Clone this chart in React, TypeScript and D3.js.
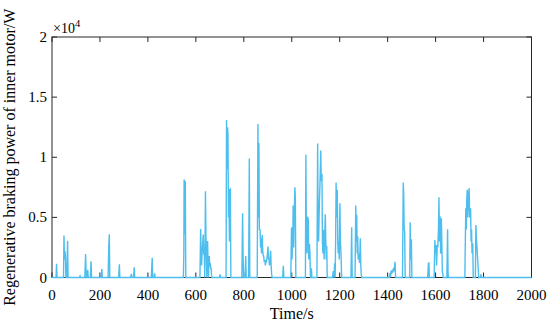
import React from "react";
import * as d3 from "d3";

// Time (s) and regenerative braking power (W) samples
const braking: [number, number][] = [
  [0, 0], [17, 0], [19, 1150], [21, 0],
  [48, 0], [50, 3500], [52, 1500], [54, 2200], [56, 1800], [58, 0], [61, 0], [63, 1200], [65, 3050], [67, 0],
  [115, 0], [117, 120], [119, 0],
  [137, 0], [140, 1950], [142, 700], [144, 0], [147, 0], [149, 650], [151, 0], [160, 0], [163, 1350], [165, 0],
  [205, 0], [208, 700], [210, 0],
  [234, 0], [237, 2700], [239, 3600], [241, 0],
  [278, 0], [281, 1100], [283, 0],
  [328, 0], [331, 300], [333, 0], [340, 0], [343, 850], [345, 0],
  [414, 0], [418, 1650], [420, 0], [426, 0], [428, 350], [430, 0],
  [548, 0], [550, 2100], [551, 8150], [553, 7900], [555, 3600], [556, 8000], [558, 0],
  [617, 0], [620, 4030], [622, 1950], [624, 1000], [626, 2000], [629, 3000], [631, 3570], [633, 1900], [635, 2500],
  [637, 0], [638, 1500], [640, 7180], [642, 3500], [644, 1800], [646, 0], [647, 1500], [649, 3040], [651, 1200],
  [653, 0], [654, 1000], [656, 1790], [658, 900], [660, 1200], [662, 760], [664, 760], [666, 0],
  [699, 0], [701, 270], [703, 0],
  [726, 0], [728, 13100], [730, 9000], [732, 12500], [734, 11900], [736, 5000], [738, 7350], [740, 3000], [742, 7300], [744, 7350], [746, 0],
  [792, 0], [795, 5350], [797, 1750], [799, 0], [805, 0], [808, 1790], [810, 0], [820, 0], [823, 9900], [825, 0],
  [856, 0], [859, 12770], [861, 5000], [863, 11180], [865, 4000], [868, 3960], [870, 2500], [872, 3270], [874, 2000],
  [877, 3540], [879, 2200], [881, 1800], [883, 1790], [885, 1300], [888, 1460], [890, 1000], [893, 1500], [895, 1400],
  [898, 1800], [901, 2570], [903, 1500], [905, 1600], [907, 1000], [909, 1400], [912, 2230], [914, 1000], [916, 300], [918, 0],
  [962, 0], [965, 980], [967, 0],
  [996, 0], [999, 4150], [1001, 1500], [1004, 3000], [1006, 5980], [1008, 2500], [1010, 5000], [1013, 7510], [1015, 6500], [1017, 0],
  [1057, 0], [1059, 10200], [1061, 3000], [1064, 2000], [1066, 5070], [1069, 4800], [1071, 1500], [1074, 2790], [1076, 2000], [1078, 0],
  [1080, 0], [1082, 760], [1084, 0],
  [1105, 0], [1108, 11150], [1110, 4000], [1112, 3000], [1115, 6000], [1118, 8000], [1121, 10560], [1123, 8000], [1126, 8620],
  [1128, 3000], [1130, 2000], [1133, 3960], [1135, 1500], [1137, 3000], [1140, 5260], [1142, 3000], [1144, 1500], [1146, 2620], [1148, 0],
  [1170, 0], [1173, 540], [1175, 0], [1177, 400], [1179, 1180], [1181, 0], [1183, 3000], [1185, 7900], [1187, 5000], [1190, 7290],
  [1192, 3040], [1194, 2000], [1196, 3040], [1198, 1500], [1201, 6180], [1203, 3000], [1206, 1700], [1208, 0],
  [1247, 0], [1250, 4180], [1252, 0], [1264, 0], [1267, 5990], [1269, 3000], [1271, 5210], [1273, 2000], [1275, 3430], [1277, 1500],
  [1280, 2000], [1283, 1200], [1286, 3270], [1288, 1000], [1290, 200], [1292, 0],
  [1407, 0], [1410, 370], [1412, 0], [1414, 570], [1416, 300], [1419, 600], [1421, 400], [1424, 790], [1426, 500], [1429, 1000], [1431, 1300], [1433, 0],
  [1462, 0], [1465, 7900], [1467, 6870], [1469, 4000], [1471, 3820], [1473, 0],
  [1492, 0], [1494, 4600], [1496, 1500], [1499, 3180], [1501, 0],
  [1567, 0], [1570, 1180], [1572, 1200], [1574, 0],
  [1594, 0], [1597, 3120], [1599, 2000], [1602, 2710], [1604, 1000], [1607, 2700], [1609, 2500], [1612, 4000], [1614, 6680], [1616, 3000],
  [1619, 5070], [1621, 2000], [1624, 4930], [1626, 3000], [1628, 500], [1630, 300], [1632, 0],
  [1647, 0], [1650, 4010], [1652, 300], [1654, 0],
  [1722, 0], [1724, 3000], [1726, 5760], [1728, 4000], [1730, 6500], [1732, 7290], [1734, 5000], [1736, 6000], [1738, 7000], [1740, 7430],
  [1742, 5000], [1744, 5700], [1746, 5700], [1748, 3000], [1750, 4000], [1752, 2000], [1755, 2850], [1757, 0],
  [1766, 0], [1768, 4370], [1771, 3000], [1774, 2000], [1777, 1000], [1780, 0],
  [1787, 0], [1789, 260], [1791, 0], [2000, 0],
];

const xTicks = [0, 200, 400, 600, 800, 1000, 1200, 1400, 1600, 1800, 2000];
const yTicks = [0, 5000, 10000, 15000, 20000];
const yTickLabels = ["0", "0.5", "1", "1.5", "2"];

const W = 550;
const H = 326;
const L = 52;
const R = 531.5;
const T = 37;
const B = 277.5;
const AXIS = "#262626";
const FONT = "'Times New Roman', 'Liberation Serif', serif";

export default function App() {
  const x = d3.scaleLinear().domain([0, 2000]).range([L, R]);
  const y = d3.scaleLinear().domain([0, 20000]).range([B, T]);
  const line = d3
    .line<[number, number]>()
    .x((d) => x(d[0]))
    .y((d) => y(d[1]));
  const tk = 5;
  return (
    <svg
      width={W}
      height={H}
      style={{ position: "absolute", left: 0, top: 0, display: "block", background: "#fff" }}
      fontFamily={FONT}
    >
      <rect x={0} y={0} width={W} height={H} fill="#fff" />
      <rect x={L} y={T} width={R - L} height={B - T} fill="none" stroke={AXIS} strokeWidth={1} />
      {xTicks.map((t) => (
        <g key={"x" + t}>
          <line x1={x(t)} x2={x(t)} y1={B} y2={B - tk} stroke={AXIS} strokeWidth={1} />
          <line x1={x(t)} x2={x(t)} y1={T} y2={T + tk} stroke={AXIS} strokeWidth={1} />
          <text x={x(t)} y={B + 22} textAnchor="middle" fontSize={15} fill="#000">
            {t}
          </text>
        </g>
      ))}
      {yTicks.map((t, i) => (
        <g key={"y" + t}>
          <line x1={L} x2={L + tk} y1={y(t)} y2={y(t)} stroke={AXIS} strokeWidth={1} />
          <line x1={R} x2={R - tk} y1={y(t)} y2={y(t)} stroke={AXIS} strokeWidth={1} />
          <text x={L - 5} y={y(t) + 5} textAnchor="end" fontSize={15} fill="#000">
            {yTickLabels[i]}
          </text>
        </g>
      ))}
      <path d={line(braking) ?? ""} fill="none" stroke="#4DBEEE" strokeWidth={1.4} strokeLinejoin="miter" />
      <text x={53} y={33} fontSize={14} fill="#000">
        ×10
        <tspan dy={-6} fontSize={10.5}>4</tspan>
      </text>
      <text x={(L + R) / 2} y={319} textAnchor="middle" fontSize={16} fill="#000">
        Time/s
      </text>
      <text
        transform={`translate(15, ${(T + B) / 2}) rotate(-90)`}
        textAnchor="middle"
        fontSize={16}
        fill="#000"
      >
        Regenerative braking power of inner motor/W
      </text>
    </svg>
  );
}
